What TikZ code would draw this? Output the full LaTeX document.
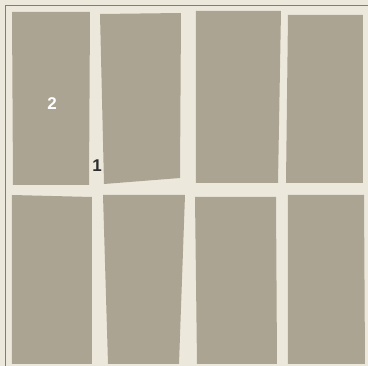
\documentclass[tikz,border=0pt]{standalone}
\usepackage{fontspec}
\setmainfont{Liberation Sans}
\usetikzlibrary{positioning}
\definecolor{tilegray}{RGB}{172,164,147}
\definecolor{groutcream}{RGB}{236,232,220}
\definecolor{framegray}{RGB}{125,125,125}
\definecolor{labeldark}{RGB}{45,45,45}

\begin{document}
\begin{tikzpicture}[x=1pt, y=-1pt,
  tile/.style={fill=tilegray, draw=none},
  lbl/.style={font=\bfseries\fontsize{17}{17}\selectfont, inner sep=0pt}]
\fill[groutcream] (0,0) rectangle (368,366);
\useasboundingbox (0,0) rectangle (368,366);
\draw[framegray, line width=1pt] (6,366) -- (6,6) -- (368,6);
% top row
\fill[tile] (12,12) -- (90,12) -- (89,185) -- (13,185) -- cycle;
\fill[tile] (100,14) -- (181,13) -- (180,178) -- (104,184) -- cycle;
\fill[tile] (196,11) -- (281,11) -- (278,183) -- (196,183) -- cycle;
\fill[tile] (288,15) -- (363,15) -- (363,183) -- (286,183) -- cycle;
% bottom row
\fill[tile] (12,195) -- (92,197) -- (92,364) -- (12,364) -- cycle;
\fill[tile] (103,195) -- (185,195) -- (179,364) -- (108,364) -- cycle;
\fill[tile] (195,197) -- (276,197) -- (277,364) -- (197,364) -- cycle;
\fill[tile] (288,195) -- (364,195) -- (365,364) -- (288,364) -- cycle;
% labels
\node[lbl, white] (two) at (52,104) {2};
\node[lbl, labeldark] (one) at (97,166) {1};
\end{tikzpicture}
\end{document}
